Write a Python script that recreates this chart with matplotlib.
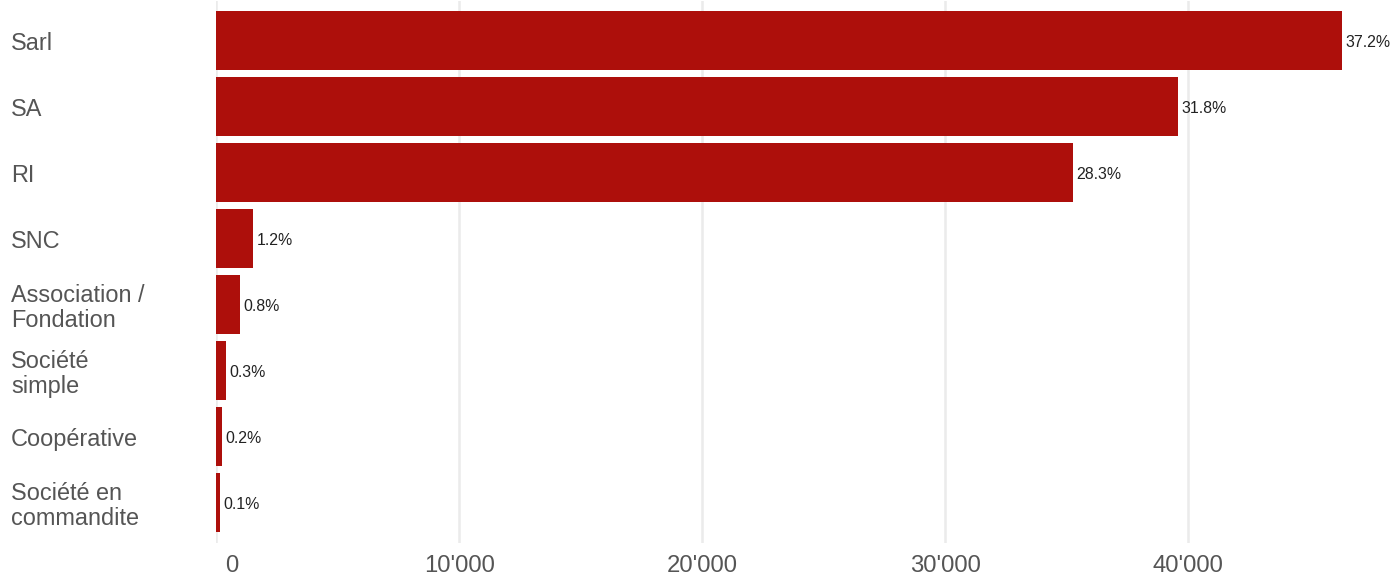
import matplotlib
matplotlib.use("Agg")
import matplotlib.pyplot as plt
import matplotlib.transforms as mtransforms
from matplotlib.ticker import FuncFormatter

plt.rcParams['font.family'] = ['Liberation Sans', 'DejaVu Sans']

categories = ["Sarl", "SA", "RI", "SNC", "Association /\nFondation",
              "Société\nsimple", "Coopérative", "Société en\ncommandite"]
values = [46320, 39560, 35240, 1540, 990, 400, 250, 150]
percent_labels = ["37.2%", "31.8%", "28.3%", "1.2%", "0.8%", "0.3%", "0.2%", "0.1%"]
xticks = [0, 10000, 20000, 30000, 40000]

W, H = 1395, 578
fig = plt.figure(figsize=(W / 100, H / 100), dpi=100)
ax = fig.add_axes([216 / W, 1 - 543 / H, 1 - 216 / W, 542 / H])

ypos = list(range(len(categories)))
ax.barh(ypos, values, height=0.9, color="#ad0f0b", zorder=2)

ax.set_ylim(7.61, -0.6)
ax.set_xlim(0, 48498)

ax.set_xticks(xticks)
ax.xaxis.set_major_formatter(FuncFormatter(lambda v, p: f"{int(v):,}".replace(",", "'")))
ax.tick_params(axis='x', length=0, pad=9, labelsize=17.2, labelcolor="#555555")
ax.set_yticks([])
ax.grid(axis='x', color="#ebebeb", linewidth=1.8, zorder=0)
for s in ax.spines.values():
    s.set_visible(False)

# shift the "0" label to the right as in the reference
lbls = ax.get_xticklabels()
lbls[0].set_transform(lbls[0].get_transform() + mtransforms.ScaledTranslation(16 / 100, 0, fig.dpi_scale_trans))

trans = mtransforms.blended_transform_factory(fig.transFigure, ax.transData) + \
    mtransforms.ScaledTranslation(0, -3 / 100, fig.dpi_scale_trans)
for y, cat in zip(ypos, categories):
    ax.text(11 / W, y, cat, transform=trans, ha='left', va='center',
            fontsize=16.9, color="#555555", linespacing=1.1)

for y, v, lab in zip(ypos, values, percent_labels):
    ax.annotate(lab, (v, y), xytext=(2.5, -1.2), textcoords='offset points',
                ha='left', va='center', fontsize=11.4, color="#222222")

fig.savefig("out.png", dpi=100)
